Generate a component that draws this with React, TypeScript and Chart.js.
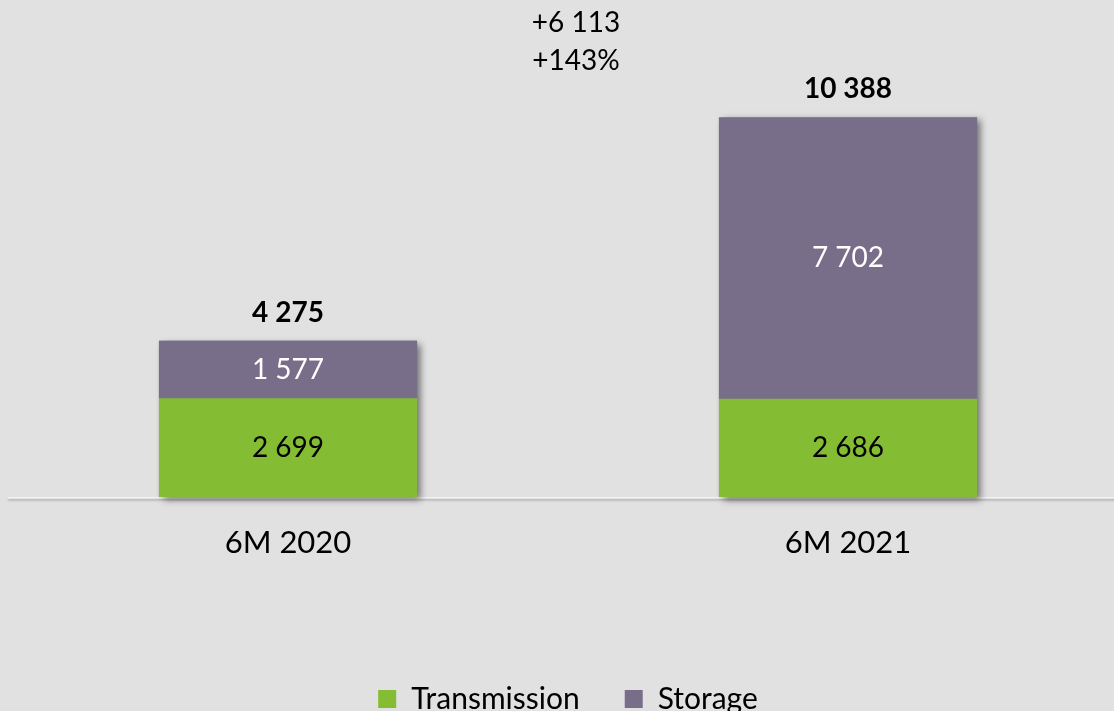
import React, { useEffect, useRef } from "react";
import { Chart, registerables } from "chart.js";

Chart.register(...registerables);

const categories = ["6M 2020", "6M 2021"];
const transmission = [2699, 2686];
const storage = [1577, 7702];
const totals = [4275, 10388];
const changeAbs = "+6 113";
const changePct = "+143%";

const GREEN = "#84bc34";
const PURPLE = "#786e89";
const BG = "#e1e1e1";
const FONT = "Lato, 'Open Sans', sans-serif";

const fmt = (v: number) => String(v).replace(/\B(?=(\d{3})+(?!\d))/g, " ");

const decoPlugin = {
  id: "deco",
  beforeDatasetsDraw(chart: any) {
    const ctx = chart.ctx;
    const m0 = chart.getDatasetMeta(0);
    const m1 = chart.getDatasetMeta(1);
    ctx.save();
    const yb = chart.scales.y.getPixelForValue(0);
    ctx.shadowColor = "rgba(0,0,0,0.25)";
    ctx.shadowBlur = 2;
    ctx.shadowOffsetY = 2;
    ctx.fillStyle = "#f2f2f2";
    ctx.fillRect(8, yb, chart.width, 1.5);
    ctx.shadowColor = "rgba(0,0,0,0.5)";
    ctx.shadowBlur = 7;
    ctx.shadowOffsetX = 4;
    ctx.shadowOffsetY = 3;
    m0.data.forEach((bar: any, i: number) => {
      const top = m1.data[i];
      const w = bar.width;
      ctx.fillStyle = PURPLE;
      ctx.fillRect(bar.x - w / 2, top.y, w, bar.base - top.y);
    });
    ctx.restore();
  },
  afterDatasetsDraw(chart: any) {
    const ctx = chart.ctx;
    const m0 = chart.getDatasetMeta(0);
    const m1 = chart.getDatasetMeta(1);
    ctx.save();
    ctx.textAlign = "center";
    ctx.textBaseline = "middle";
    m0.data.forEach((bar: any, i: number) => {
      ctx.font = `28px ${FONT}`;
      ctx.fillStyle = "#000";
      ctx.fillText(fmt(transmission[i]), bar.x, (bar.y + bar.base) / 2);
      const s = m1.data[i];
      ctx.fillStyle = "#fff";
      ctx.fillText(fmt(storage[i]), s.x, (s.y + s.base) / 2);
      ctx.fillStyle = "#000";
      ctx.font = `bold 28px ${FONT}`;
      ctx.fillText(fmt(totals[i]), s.x, s.y - 28);
    });
    ctx.font = `28px ${FONT}`;
    const mid = (m0.data[0].x + m0.data[1].x) / 2 + 8;
    ctx.fillStyle = "#000";
    ctx.fillText(changeAbs, mid, 23);
    ctx.fillText(changePct, mid, 61);
    ctx.restore();
  },
};

export default function App() {
  const ref = useRef<HTMLCanvasElement>(null);
  useEffect(() => {
    const chart = new Chart(ref.current!, {
      type: "bar",
      data: {
        labels: categories,
        datasets: [
          { label: "Transmission", data: transmission, backgroundColor: GREEN },
          { label: "Storage", data: storage, backgroundColor: PURPLE },
        ],
      },
      options: {
        animation: false,
        responsive: false,
        layout: { padding: { left: 8, top: 0, right: 0, bottom: 0 } },
        datasets: { bar: { categoryPercentage: 1, barPercentage: 0.461 } } as any,
        scales: {
          x: {
            stacked: true,
            grid: { display: false },
            border: { display: false },
            ticks: { color: "#000", font: { family: FONT, size: 31 }, padding: 19 },
            afterFit: (s: any) => {
              s.height = 142;
            },
          },
          y: { stacked: true, display: false, min: 0, max: 13600 },
        },
        plugins: {
          legend: {
            position: "bottom",
            labels: {
              color: "#000",
              font: { family: FONT, size: 30 },
              boxWidth: 18,
              boxHeight: 18,
              padding: 45,
            },
          },
          tooltip: { enabled: false },
        },
      },
      plugins: [decoPlugin],
    });
    return () => chart.destroy();
  }, []);
  return (
    <div
      style={{
        position: "absolute",
        left: 0,
        top: 0,
        width: 1114,
        height: 711,
        overflow: "hidden",
        background: BG,
      }}
    >
      <canvas ref={ref} width={1128} height={724} style={{ display: "block" }} />
    </div>
  );
}
